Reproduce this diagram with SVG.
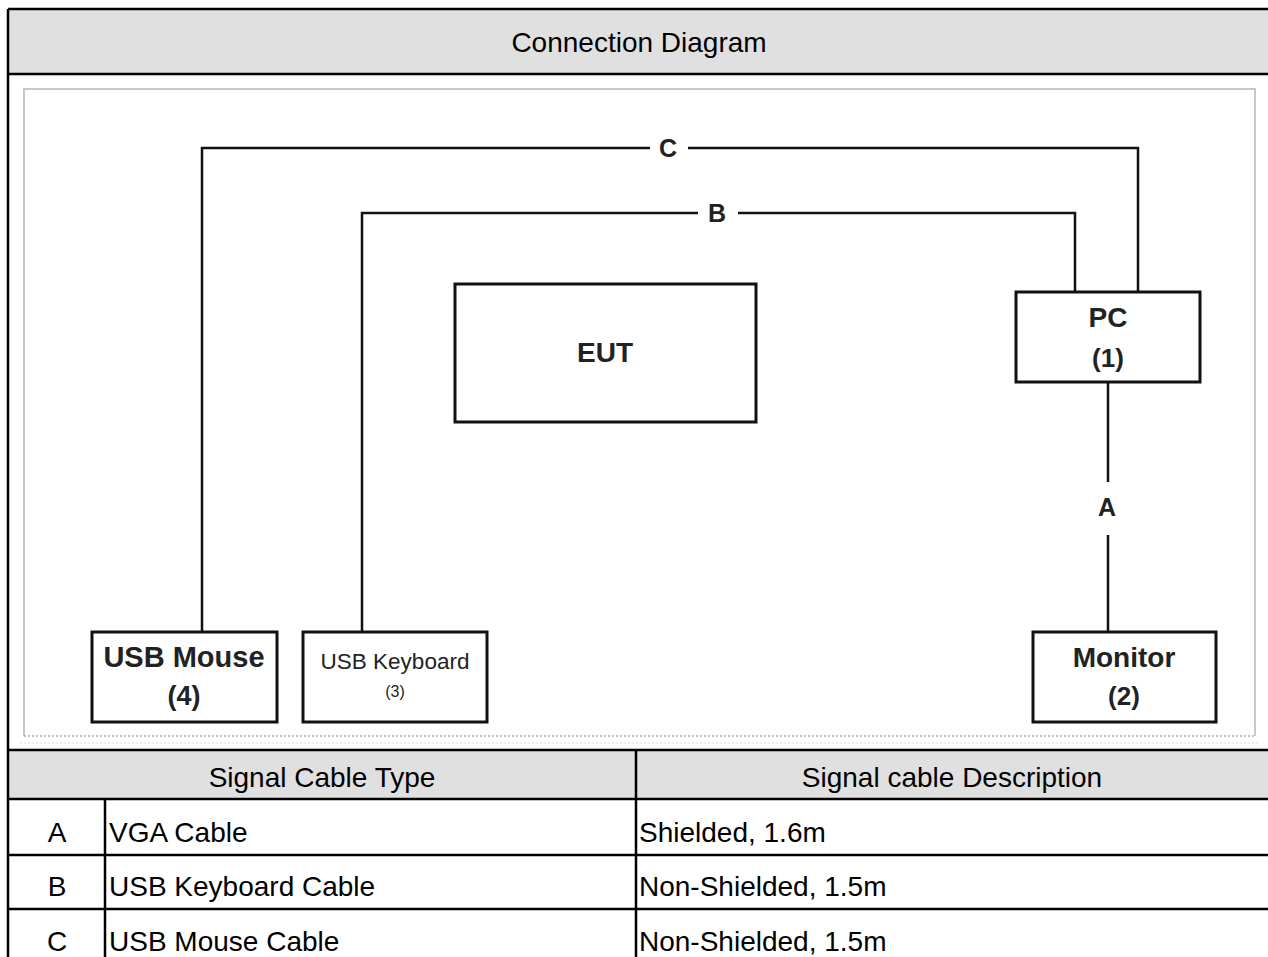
<svg xmlns="http://www.w3.org/2000/svg" width="1268" height="957" viewBox="0 0 1268 957">
<style>
.t{font-family:"Liberation Sans",Arial,sans-serif;font-size:28px;fill:#000}
.c{text-anchor:middle}
.g{stroke:#000;stroke-width:2.5;fill:none}
.box{fill:#fff;stroke:#111;stroke-width:3}
.lbl{font-family:"Liberation Sans",Arial,sans-serif;font-weight:bold;fill:#222;text-anchor:middle}
.wire{stroke:#111;stroke-width:2.5;fill:none}
</style>
<rect width="1268" height="957" fill="#fff"/>
<g id="frame">
<rect x="8" y="9" width="1262" height="65" fill="#e0e0e0"/>
<rect x="8" y="750" width="1262" height="49" fill="#e0e0e0"/>
<path class="g" d="M8,9H1270M8,74H1270M8,750H1270M8,799H1270M8,855H1270M8,909H1270M8,9V960M636,750V960M105,799V960"/>
<text class="t c" x="639" y="52">Connection Diagram</text>
<text class="t c" x="322" y="787">Signal Cable Type</text>
<text class="t c" x="952" y="787">Signal cable Description</text>
<text class="t c" x="57" y="842">A</text>
<text class="t" x="109" y="842">VGA Cable</text>
<text class="t" x="639" y="842">Shielded, 1.6m</text>
<text class="t c" x="57" y="896">B</text>
<text class="t" x="109" y="896">USB Keyboard Cable</text>
<text class="t" x="639" y="896">Non-Shielded, 1.5m</text>
<text class="t c" x="57" y="951">C</text>
<text class="t" x="109" y="951">USB Mouse Cable</text>
<text class="t" x="639" y="951">Non-Shielded, 1.5m</text>
</g>
<g id="picframe">
<path d="M24,736V89H1255V736" fill="none" stroke="#c8c8c8" stroke-width="2"/>
<path d="M24,736H1255" fill="none" stroke="#aaa" stroke-width="1.5" stroke-dasharray="2,2"/>
<path d="M20,743H1260" fill="none" stroke="#ddd" stroke-width="1" stroke-dasharray="2,2"/>
</g>
<g id="connectors">
<path class="wire" d="M202,632V148H650M688,148H1138V292"/>
<path class="wire" d="M362,632V213H698M738,213H1075V292"/>
<path class="wire" d="M1108,382V482M1108,535V632"/>
<text class="lbl" x="668" y="157" style="font-size:25px">C</text>
<text class="lbl" x="717" y="222" style="font-size:25px">B</text>
<text class="lbl" x="1107" y="516" style="font-size:25px">A</text>
</g>
<g id="eut">
<rect class="box" x="455" y="284" width="301" height="138"/>
<text class="lbl" x="605" y="362" style="font-size:28px">EUT</text>
</g>
<g id="pc">
<rect class="box" x="1016" y="292" width="184" height="90"/>
<text class="lbl" x="1108" y="327" style="font-size:28px">PC</text>
<text class="lbl" x="1108" y="367" style="font-size:26px">(1)</text>
</g>
<g id="monitor">
<rect class="box" x="1033" y="632" width="183" height="90"/>
<text class="lbl" x="1124" y="667" style="font-size:28px">Monitor</text>
<text class="lbl" x="1124" y="705" style="font-size:26px">(2)</text>
</g>
<g id="mouse">
<rect class="box" x="92" y="632" width="185" height="90"/>
<text class="lbl" x="184" y="667" style="font-size:29px">USB Mouse</text>
<text class="lbl" x="184" y="705" style="font-size:27px">(4)</text>
</g>
<g id="keyboard">
<rect class="box" x="303" y="632" width="184" height="90"/>
<text class="lbl" x="395" y="669" style="font-size:22.5px;font-weight:normal">USB Keyboard</text>
<text class="lbl" x="395" y="697" style="font-size:16px;font-weight:normal">(3)</text>
</g>
</svg>
